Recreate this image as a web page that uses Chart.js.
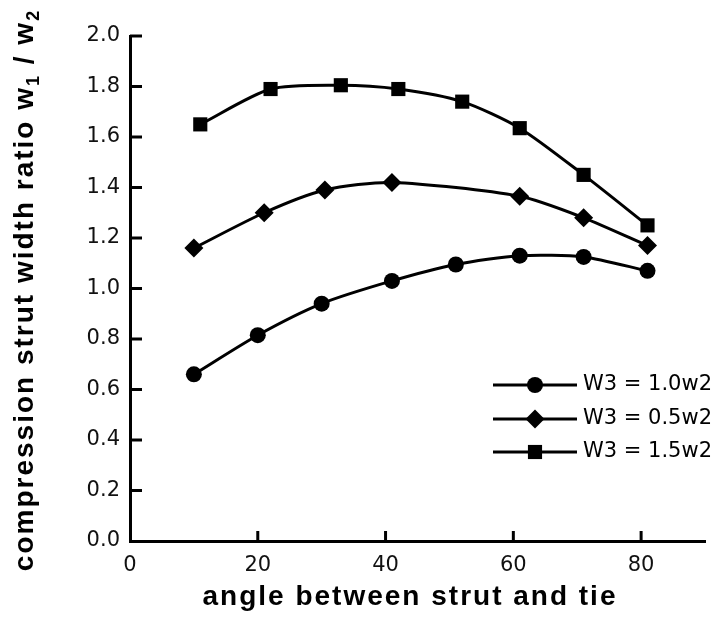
<!DOCTYPE html>
<html>
<head>
<meta charset="utf-8">
<script src="https://cdn.jsdelivr.net/npm/chart.js@4.4.1/dist/chart.umd.min.js"></script>
<style>
  body { margin: 0; background: #fff; }
</style>
</head>
<body>
<canvas id="chart" width="715" height="620"></canvas>
<script>
// values: angle (deg) and strut width ratio w1/w2
const angles10 = [10, 20, 30, 41, 51, 61, 71, 81];
const ratio10 = [0.66, 0.815, 0.94, 1.03, 1.095, 1.13, 1.125, 1.07];

const angles05 = [10, 21, 30.5, 41, 61, 71, 81];
const ratio05 = [1.16, 1.30, 1.39, 1.42, 1.365, 1.28, 1.17];

const angles15 = [11, 22, 33, 42, 52, 61, 71, 81];
const ratio15 = [1.65, 1.79, 1.805, 1.79, 1.74, 1.635, 1.45, 1.25];

const seriesNames = ['W3 = 1.0w2', 'W3 = 0.5w2', 'W3 = 1.5w2'];
const markers = ['circle', 'rectRot', 'rect'];
const markerSizes = [8, 9.5, 10];

const xTicks = [0, 20, 40, 60, 80];
const yTicks = [0, 0.2, 0.4, 0.6, 0.8, 1.0, 1.2, 1.4, 1.6, 1.8, 2.0];

function toPoints(xs, ys) {
    return xs.map((x, i) => ({ x: x, y: ys[i] }));
}

const allX = [angles10, angles05, angles15];
const allY = [ratio10, ratio05, ratio15];

const datasets = seriesNames.map((name, i) => ({
    label: name,
    data: toPoints(allX[i], allY[i]),
    borderColor: '#000',
    backgroundColor: '#000',
    borderWidth: 3,
    tension: 0.25,
    pointStyle: markers[i],
    pointRadius: markerSizes[i],
    pointBorderWidth: 0
}));

// draw a legend marker by hand (same shapes as chart points)
function marker(ctx, style, x, y, r) {
    ctx.beginPath();
    if (style == 'circle') {
        ctx.arc(x, y, r, 0, Math.PI * 2);
    } else if (style == 'rect') {
        let s = r * Math.SQRT1_2;
        ctx.rect(x - s, y - s, 2 * s, 2 * s);
    } else {
        ctx.moveTo(x, y - r);
        ctx.lineTo(x + r, y);
        ctx.lineTo(x, y + r);
        ctx.lineTo(x - r, y);
        ctx.closePath();
    }
    ctx.fill();
}

// text with subscripts, centered on (0,0)
function drawTitle(ctx, parts) {
    let total = 0;
    parts.forEach(p => {
        ctx.font = p.sub ? 'bold 18px "Liberation Sans"' : 'bold 28px "Liberation Sans"';
        p.w = ctx.measureText(p.text).width;
        total += p.w;
    });
    let x = -total / 2;
    parts.forEach(p => {
        ctx.font = p.sub ? 'bold 18px "Liberation Sans"' : 'bold 28px "Liberation Sans"';
        ctx.fillText(p.text, x, p.sub ? 6 : 0);
        x += p.w;
    });
}

const extras = {
    id: 'extras',
    afterDraw(chart) {
        const ctx = chart.ctx;
        const xs = chart.scales.x;
        const ys = chart.scales.y;
        const area = chart.chartArea;
        ctx.save();
        ctx.strokeStyle = '#000';
        ctx.fillStyle = '#000';
        ctx.lineWidth = 3;

        // inward ticks
        yTicks.forEach(v => {
            if (v == 0) return;
            let py = ys.getPixelForValue(v);
            ctx.beginPath();
            ctx.moveTo(area.left, py);
            ctx.lineTo(area.left + 12, py);
            ctx.stroke();
        });
        xTicks.forEach(v => {
            if (v == 0) return;
            let px = xs.getPixelForValue(v);
            ctx.beginPath();
            ctx.moveTo(px, area.bottom);
            ctx.lineTo(px, area.bottom - 10);
            ctx.stroke();
        });

        // legend
        const rowY = [385, 419, 452];
        seriesNames.forEach((name, i) => {
            ctx.lineWidth = 3;
            ctx.beginPath();
            ctx.moveTo(493, rowY[i]);
            ctx.lineTo(577, rowY[i]);
            ctx.stroke();
            marker(ctx, markers[i], 535, rowY[i], markerSizes[i]);
            ctx.font = '21px "DejaVu Sans"';
            ctx.textAlign = 'left';
            ctx.textBaseline = 'middle';
            ctx.fillText(name, 583, rowY[i]);
        });

        // axis titles
        ctx.textAlign = 'left';
        ctx.textBaseline = 'alphabetic';
        ctx.letterSpacing = '2px';
        ctx.save();
        ctx.translate(410, 605);
        drawTitle(ctx, [{ text: 'angle between strut and tie' }]);
        ctx.restore();

        ctx.save();
        ctx.translate(33, 290);
        ctx.rotate(-Math.PI / 2);
        drawTitle(ctx, [
            { text: 'compression strut width ratio w' },
            { text: '1', sub: true },
            { text: ' / w' },
            { text: '2', sub: true }
        ]);
        ctx.restore();
        ctx.restore();
    }
};

new Chart(document.getElementById('chart'), {
    type: 'line',
    data: { datasets: datasets },
    options: {
        responsive: false,
        animation: false,
        layout: { padding: { left: 0, right: 3, top: 36, bottom: 0 } },
        plugins: { legend: { display: false }, tooltip: { enabled: false } },
        scales: {
            x: {
                type: 'linear',
                min: 0,
                max: 90,
                afterBuildTicks: s => { s.ticks = xTicks.map(v => ({ value: v })); },
                afterFit: s => { s.height = 79; },
                grid: { drawOnChartArea: false, drawTicks: false },
                border: { color: '#000', width: 3 },
                ticks: {
                    color: '#111',
                    padding: 12,
                    maxRotation: 0,
                    font: { family: 'DejaVu Sans', size: 21 }
                }
            },
            y: {
                min: 0,
                max: 2,
                afterBuildTicks: s => { s.ticks = yTicks.map(v => ({ value: v })); },
                afterFit: s => { s.width = 130; },
                grid: { drawOnChartArea: false, drawTicks: false },
                border: { color: '#000', width: 3 },
                ticks: {
                    color: '#111',
                    padding: 10,
                    font: { family: 'DejaVu Sans', size: 21 },
                    callback: v => v.toFixed(1)
                }
            }
        }
    },
    plugins: [extras]
});
</script>
</body>
</html>
